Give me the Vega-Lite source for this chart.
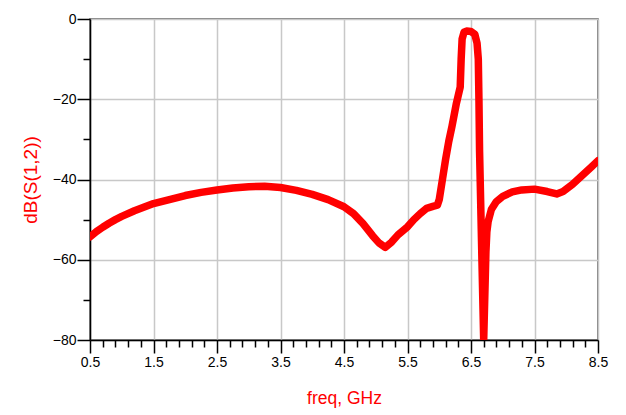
{
  "$schema": "https://vega.github.io/schema/vega-lite/v6.json",
  "autosize": "none",
  "padding": {"left": 90, "top": 19, "right": 28, "bottom": 75},
  "width": 508,
  "height": 321,
  "config": {
    "view": {"stroke": "#555555", "strokeWidth": 1.5},
    "axis": {
      "labelFont": "Liberation Sans",
      "titleFont": "Liberation Sans",
      "labelFontSize": 14,
      "labelColor": "#000000",
      "titleFontWeight": "normal",
      "titleColor": "#FF0000",
      "domainColor": "#000000",
      "domainWidth": 1.5,
      "tickColor": "#000000",
      "tickWidth": 1.5,
      "gridColor": "#C8C8C8",
      "gridWidth": 1.5
    }
  },
  "data": {
    "values": [
      {"f": 0.5, "db": -54.3}, {"f": 0.6, "db": -53.0}, {"f": 0.7, "db": -51.9},
      {"f": 0.8, "db": -50.9}, {"f": 0.9, "db": -50.0}, {"f": 1.0, "db": -49.2},
      {"f": 1.2, "db": -47.8}, {"f": 1.5, "db": -46.0}, {"f": 1.75, "db": -45.0},
      {"f": 2.0, "db": -44.0}, {"f": 2.25, "db": -43.2}, {"f": 2.5, "db": -42.6},
      {"f": 2.75, "db": -42.1}, {"f": 3.0, "db": -41.8}, {"f": 3.25, "db": -41.7},
      {"f": 3.5, "db": -42.0}, {"f": 3.75, "db": -42.7}, {"f": 4.0, "db": -43.7},
      {"f": 4.25, "db": -45.0}, {"f": 4.5, "db": -46.8}, {"f": 4.65, "db": -48.5},
      {"f": 4.8, "db": -51.0}, {"f": 4.95, "db": -54.0}, {"f": 5.05, "db": -55.8},
      {"f": 5.15, "db": -56.9}, {"f": 5.25, "db": -55.6}, {"f": 5.35, "db": -53.8},
      {"f": 5.5, "db": -51.8}, {"f": 5.6, "db": -50.0}, {"f": 5.7, "db": -48.5},
      {"f": 5.8, "db": -47.2}, {"f": 5.9, "db": -46.7}, {"f": 5.97, "db": -46.4},
      {"f": 6.0, "db": -45.0}, {"f": 6.05, "db": -40.0}, {"f": 6.1, "db": -35.0},
      {"f": 6.15, "db": -30.5}, {"f": 6.2, "db": -26.8}, {"f": 6.27, "db": -21.0},
      {"f": 6.33, "db": -17.0}, {"f": 6.345, "db": -10.0}, {"f": 6.36, "db": -5.0},
      {"f": 6.39, "db": -3.3}, {"f": 6.43, "db": -3.0}, {"f": 6.5, "db": -3.1},
      {"f": 6.56, "db": -3.8}, {"f": 6.595, "db": -6.0}, {"f": 6.615, "db": -10.0},
      {"f": 6.625, "db": -20.0}, {"f": 6.635, "db": -33.0}, {"f": 6.665, "db": -55.0},
      {"f": 6.7, "db": -80.0}, {"f": 6.735, "db": -58.0},
      {"f": 6.75, "db": -53.0}, {"f": 6.77, "db": -50.5}, {"f": 6.82, "db": -47.5},
      {"f": 6.9, "db": -45.5}, {"f": 7.0, "db": -44.2}, {"f": 7.15, "db": -43.1},
      {"f": 7.3, "db": -42.6}, {"f": 7.5, "db": -42.4}, {"f": 7.7, "db": -43.0},
      {"f": 7.85, "db": -43.6}, {"f": 7.95, "db": -43.0}, {"f": 8.1, "db": -41.2},
      {"f": 8.25, "db": -39.0}, {"f": 8.4, "db": -36.8}, {"f": 8.5, "db": -35.3}
    ]
  },
  "mark": {"type": "line", "color": "#FF0000", "strokeWidth": 7.5, "strokeCap": "round", "strokeJoin": "round", "clip": true},
  "encoding": {
    "x": {
      "field": "f", "type": "quantitative",
      "scale": {"domain": [0.5, 8.5], "nice": false, "zero": false},
      "axis": {
        "title": "freq, GHz",
        "titleFontSize": 17.5,
        "values": [0.5, 0.7, 0.9, 1.1, 1.3, 1.5, 1.7, 1.9, 2.1, 2.3, 2.5, 2.7, 2.9, 3.1, 3.3, 3.5, 3.7, 3.9, 4.1, 4.3, 4.5, 4.7, 4.9, 5.1, 5.3, 5.5, 5.7, 5.9, 6.1, 6.3, 6.5, 6.7, 6.9, 7.1, 7.3, 7.5, 7.7, 7.9, 8.1, 8.3, 8.5],
        "format": ".1f",
        "labelExpr": "abs((datum.value - 0.5) - round(datum.value - 0.5)) < 0.01 ? datum.label : ''",
        "tickSize": {"condition": {"test": "abs((datum.value - 0.5) - round(datum.value - 0.5)) < 0.01", "value": 13}, "value": 7},
        "gridOpacity": {"condition": {"test": "abs((datum.value - 0.5) - round(datum.value - 0.5)) < 0.01", "value": 1}, "value": 0},
        "labelPadding": 2,
        "labelFlush": false,
        "labelOverlap": false,
        "titlePadding": 20
      }
    },
    "y": {
      "field": "db", "type": "quantitative",
      "scale": {"domain": [-80, 0], "nice": false, "zero": false},
      "axis": {
        "title": "dB(S(1,2))",
        "titleFontSize": 19,
        "values": [0, -10, -20, -30, -40, -50, -60, -70, -80],
        "labelExpr": "datum.value % 20 == 0 ? datum.label : ''",
        "tickSize": {"condition": {"test": "datum.value % 20 == 0", "value": 13}, "value": 7},
        "gridOpacity": {"condition": {"test": "datum.value % 20 == 0", "value": 1}, "value": 0},
        "labelPadding": 1,
        "labelFlush": false,
        "labelOverlap": false,
        "titlePadding": 12
      }
    }
  }
}
